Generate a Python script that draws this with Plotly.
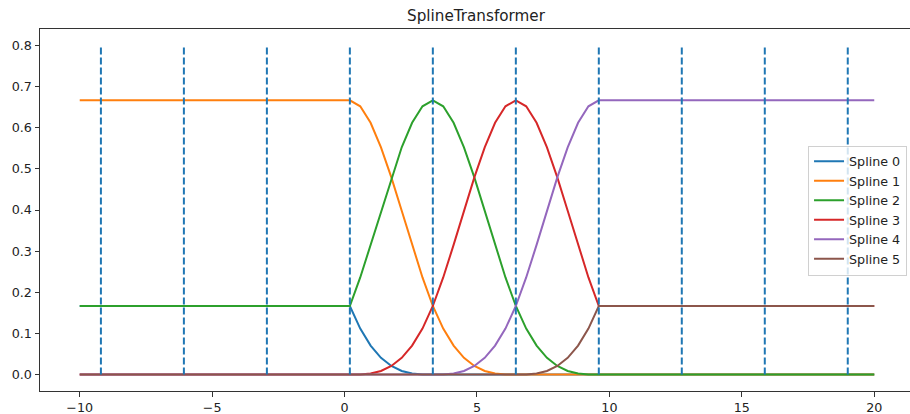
import plotly.graph_objects as go

# sample positions along x
x_vals = [-10, 0.2, 0.592, 0.983, 1.375, 1.767, 2.158, 2.55, 2.942, 3.333,
          3.725, 4.117, 4.508, 4.9, 5.292, 5.683, 6.075, 6.467,
          6.858, 7.25, 7.642, 8.033, 8.425, 8.817, 9.208, 9.6, 20]

spline_0 = [0.1667, 0.1667, 0.1117, 0.0703, 0.0407, 0.0208, 0.0088, 0.0026, 0.0003, 0,
            0, 0, 0, 0, 0, 0, 0, 0,
            0, 0, 0, 0, 0, 0, 0, 0, 0]
spline_1 = [0.6667, 0.6667, 0.652, 0.612, 0.5524, 0.4792, 0.3981, 0.3151, 0.236, 0.1667,
            0.1117, 0.0703, 0.0407, 0.0208, 0.0088, 0.0026, 0.0003, 0,
            0, 0, 0, 0, 0, 0, 0, 0, 0]
spline_2 = [0.1667, 0.1667, 0.236, 0.3151, 0.3981, 0.4792, 0.5524, 0.612, 0.652, 0.6667,
            0.652, 0.612, 0.5524, 0.4792, 0.3981, 0.3151, 0.236, 0.1667,
            0.1117, 0.0703, 0.0407, 0.0208, 0.0088, 0.0026, 0.0003, 0, 0]
spline_3 = [0, 0, 0.0003, 0.0026, 0.0088, 0.0208, 0.0407, 0.0703, 0.1117, 0.1667,
            0.236, 0.3151, 0.3981, 0.4792, 0.5524, 0.612, 0.652, 0.6667,
            0.652, 0.612, 0.5524, 0.4792, 0.3981, 0.3151, 0.236, 0.1667, 0.1667]
spline_4 = [0, 0, 0, 0, 0, 0, 0, 0, 0, 0,
            0.0003, 0.0026, 0.0088, 0.0208, 0.0407, 0.0703, 0.1117, 0.1667,
            0.236, 0.3151, 0.3981, 0.4792, 0.5524, 0.612, 0.652, 0.6667, 0.6667]
spline_5 = [0, 0, 0, 0, 0, 0, 0, 0, 0, 0,
            0, 0, 0, 0, 0, 0, 0, 0,
            0.0003, 0.0026, 0.0088, 0.0208, 0.0407, 0.0703, 0.1117, 0.1667, 0.1667]

series = [spline_0, spline_1, spline_2, spline_3, spline_4, spline_5]
names = ["Spline 0", "Spline 1", "Spline 2", "Spline 3", "Spline 4", "Spline 5"]
colors = ["#1f77b4", "#ff7f0e", "#2ca02c", "#d62728", "#9467bd", "#8c564b"]

knots = [-9.2, -6.067, -2.933, 0.2, 3.333, 6.467, 9.6, 12.733, 15.867, 19.0]
knot_ymin = 0.0
knot_ymax = 0.8

x_ticks = [-10, -5, 0, 5, 10, 15, 20]
y_ticks = [0.0, 0.1, 0.2, 0.3, 0.4, 0.5, 0.6, 0.7, 0.8]

FONT = "DejaVu Sans"

fig = go.Figure()
for name, vals, col in zip(names, series, colors):
    fig.add_trace(go.Scatter(x=x_vals, y=vals, mode="lines", name=name,
                             line=dict(color=col, width=2)))

kx, ky = [], []
for k in knots:
    kx += [k, k, None]
    ky += [knot_ymin, knot_ymax, None]
fig.add_trace(go.Scatter(x=kx, y=ky, mode="lines", showlegend=False,
                         line=dict(color="#1f77b4", width=2, dash="7px,3px"),
                         hoverinfo="skip"))

fig.update_layout(
    width=910, height=414,
    margin=dict(l=40, r=0, t=29, b=23, autoexpand=False),
    paper_bgcolor="white", plot_bgcolor="white",
    font=dict(family=FONT, size=12.7, color="#222"),
    title=dict(text="SplineTransformer", x=476 / 910, xanchor="center",
               y=1 - 15.5 / 414, yanchor="middle",
               font=dict(family=FONT, size=15.2, color="#222")),
    showlegend=True,
    legend=dict(x=0.9966, xanchor="right", y=0.4986, yanchor="middle",
                bgcolor="rgba(255,255,255,0.8)", bordercolor="#d0d0d0",
                borderwidth=1, font=dict(family=FONT, size=12.7, color="#222"),
                tracegroupgap=0, itemwidth=30),
)
fig.update_xaxes(range=[-11.5, 21.35], tickvals=x_ticks, showgrid=False,
                 zeroline=False, showline=True, linecolor="#333", linewidth=1,
                 mirror=True, ticks="outside", ticklen=4.5, tickcolor="#333",
                 automargin=False,
                 tickfont=dict(family=FONT, size=12.7, color="#222"))
fig.update_yaxes(range=[-0.04, 0.84], tickvals=y_ticks, tickformat=".1f",
                 showgrid=False, zeroline=False, showline=True, linecolor="#333",
                 linewidth=1, ticks="outside", ticklen=4.5, tickcolor="#333",
                 automargin=False,
                 tickfont=dict(family=FONT, size=12.7, color="#222"))

fig.write_html("out.html", config={"displayModeBar": False},
               post_script="document.body.style.margin='0px';document.body.style.overflow='hidden';")
